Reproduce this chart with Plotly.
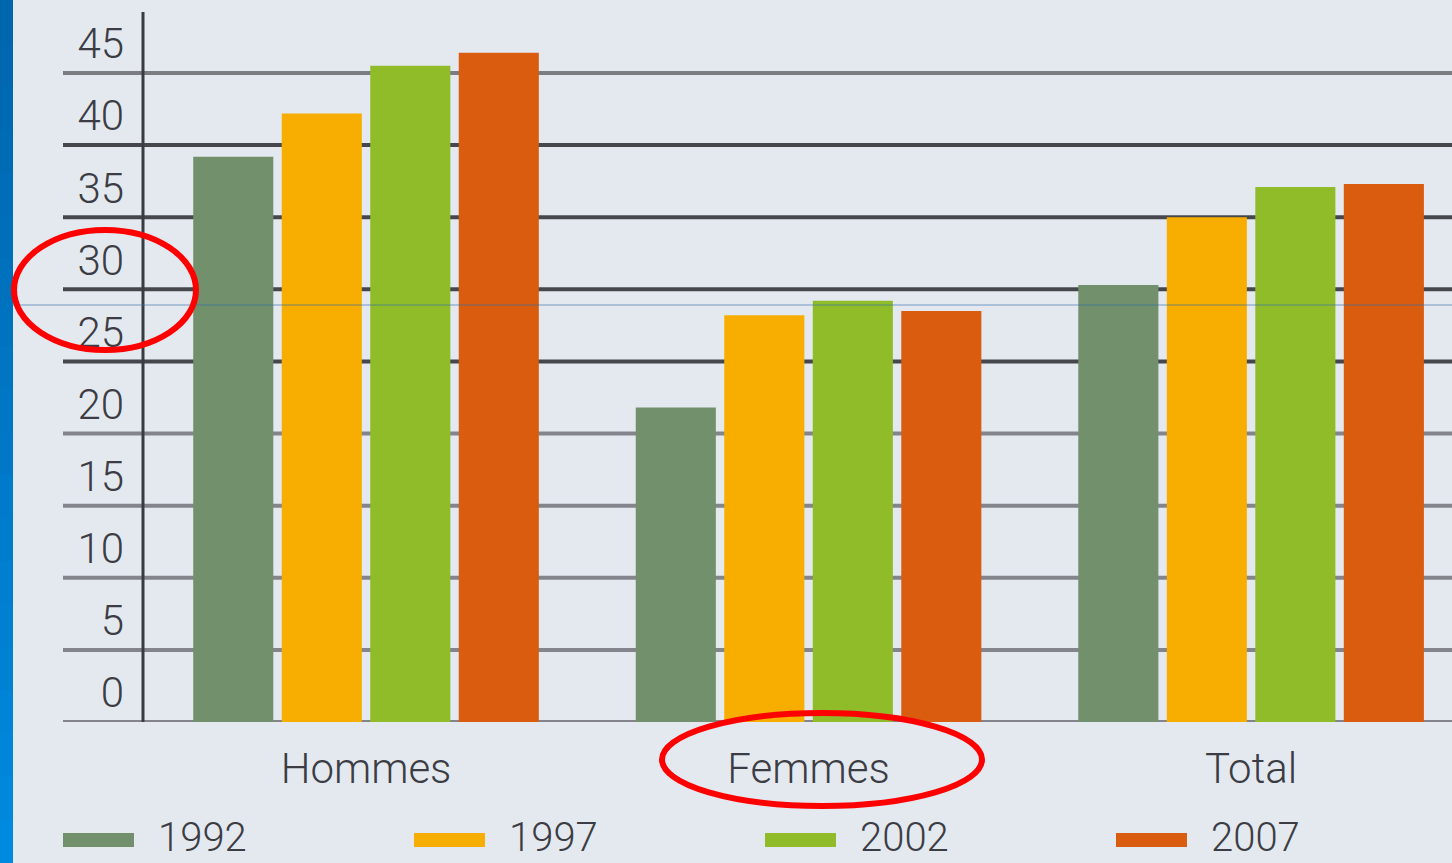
import plotly.graph_objects as go

categories = ["Hommes", "Femmes", "Total"]
years = ["1992", "1997", "2002", "2007"]
values_1992 = [39.2, 21.8, 30.3]
values_1997 = [42.2, 28.2, 35.0]
values_2002 = [45.5, 29.2, 37.1]
values_2007 = [46.4, 28.5, 37.3]
series = [values_1992, values_1997, values_2002, values_2007]
colors = ["#71906b", "#f7ae00", "#8fbc28", "#d95c0f"]
tick_values = [0, 5, 10, 15, 20, 25, 30, 35, 40, 45]
grid_colors = ["#84858c", "#84858c", "#84858c", "#84858c", "#84858c",
               "#46474d", "#46474d", "#46474d", "#46474d", "#7b7c82"]

FONT = "Roboto"
TXT = "#3c3d44"
W, H = 1452, 863
L, R, T, B = 143, 0, 12, 141
PW = W - L - R
PH = H - T - B


def px2x(px):
    return (px - L) / PW


def py2y(py):
    return (H - B - py) / PH


fig = go.Figure()
xpos = list(range(len(categories)))
for name, vals, col in zip(years, series, colors):
    fig.add_trace(go.Bar(x=xpos, y=vals, name=name, marker_color=col,
                         marker_line_width=0, showlegend=False))

shapes = []
# blue stripe at left edge (gradient)
n = 20
for i in range(n):
    t = i / (n - 1)
    g = int(0x66 + (0x8a - 0x66) * t)
    b = int(0xae + (0xdf - 0xae) * t)
    shapes.append(dict(type="rect", xref="paper", yref="paper",
                       x0=px2x(0), x1=px2x(13),
                       y0=py2y(i * H / n), y1=py2y((i + 1) * H / n + 1),
                       fillcolor=f"rgb(0,{g},{b})", line_width=0, layer="below"))
# grid lines from tick values
for v, gc in zip(tick_values, grid_colors):
    shapes.append(dict(type="line", xref="paper", yref="y",
                       x0=px2x(63), x1=1, y0=v, y1=v,
                       line=dict(color=gc, width=4), layer="below"))
# y axis line
shapes.append(dict(type="line", xref="paper", yref="paper",
                   x0=0, x1=0, y0=0, y1=1,
                   line=dict(color="#3a3b40", width=3), layer="below"))
# thin blue line across
shapes.append(dict(type="line", xref="paper", yref="paper",
                   x0=px2x(13), x1=1, y0=py2y(305), y1=py2y(305),
                   line=dict(color="rgba(50,110,170,0.65)", width=1)))
# red ellipses
shapes.append(dict(type="circle", xref="paper", yref="paper",
                   x0=px2x(14), x1=px2x(196), y0=py2y(230), y1=py2y(350),
                   line=dict(color="#ff0000", width=6)))
shapes.append(dict(type="circle", xref="paper", yref="paper",
                   x0=px2x(662), x1=px2x(982), y0=py2y(713), y1=py2y(806),
                   line=dict(color="#ff0000", width=6)))

annotations = []
# custom legend
for i, (name, col) in enumerate(zip(years, colors)):
    x0 = 63 + 351 * i
    shapes.append(dict(type="rect", xref="paper", yref="paper",
                       x0=px2x(x0), x1=px2x(x0 + 71), y0=py2y(847), y1=py2y(833),
                       fillcolor=col, line_width=0))
    annotations.append(dict(text=name, xref="paper", yref="paper",
                            x=px2x(x0 + 94), y=py2y(862), xanchor="left", yanchor="bottom",
                            showarrow=False, borderpad=0,
                            font=dict(family=FONT, size=40, color=TXT, weight=300)))

fig.update_layout(
    width=W, height=H,
    margin=dict(l=L, r=R, t=T, b=B, pad=0),
    paper_bgcolor="#e4e9f0",
    plot_bgcolor="#e4e9f0",
    barmode="group",
    bargap=0.2,
    bargroupgap=0.095,
    shapes=shapes,
    annotations=annotations,
    font=dict(family=FONT, size=42, color=TXT, weight=300),
    xaxis=dict(tickmode="array", tickvals=xpos, ticktext=categories,
               range=[-0.504, 2.454], showgrid=False, zeroline=False,
               showline=False, ticks="", ticklabelstandoff=18,
               tickfont=dict(family=FONT, size=42, color=TXT, weight=300)),
    yaxis=dict(range=[0, 49.23], tickmode="array", tickvals=tick_values,
               showgrid=False, zeroline=False, showline=False, ticks="",
               ticklabelposition="outside top", ticklabelstandoff=18,
               tickfont=dict(family=FONT, size=42, color=TXT, weight=300)),
)

fig.write_html("out.html", config={"displayModeBar": False},
               post_script="document.body.style.margin='0';document.body.style.overflow='hidden';")
